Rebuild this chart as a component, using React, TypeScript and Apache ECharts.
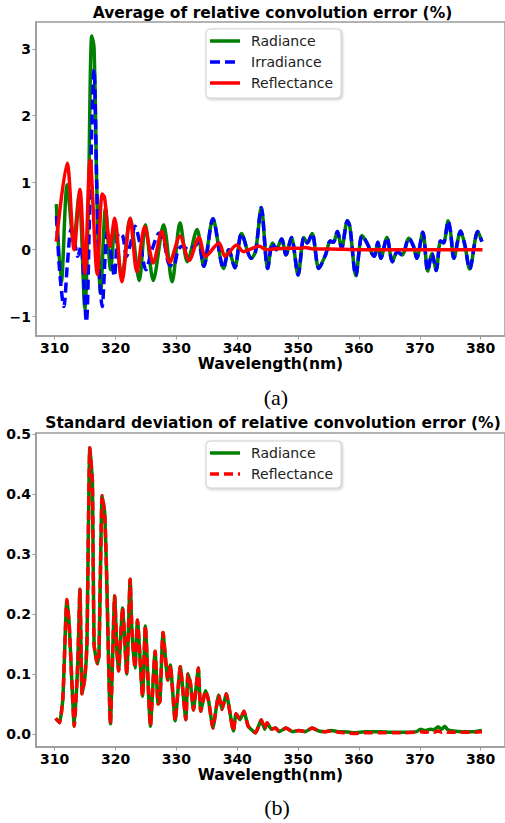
import React, { useEffect, useRef } from "react";
import * as echarts from "echarts";

// ---- axis ticks ----
const wlTicks = [310, 320, 330, 340, 350, 360, 370, 380];
const avgTicks = [-1, 0, 1, 2, 3];
const stdTicks = [0, 0.1, 0.2, 0.3, 0.4, 0.5];

// ---- legend entries ----
const avgLegend = ["Radiance", "Irradiance", "Reflectance"];
const stdLegend = ["Radiance", "Reflectance"];

// ---- (a) average relative convolution error (%) ----
const avgRadHeadWl = [310.27, 311.1, 312.05, 313.1, 314.0, 314.96, 315.5, 316.1, 316.47, 317.0, 317.55, 318.35, 319.2, 319.9, 321.0, 322.4, 323.9, 324.9, 326.2, 327.9, 329.3, 330.6, 331.8, 333.4];
const avgRadHeadVal = [0.68, -0.48, 0.97, 0.12, 0.82, -0.88, 0.5, 3.19, 3.02, 0.6, -0.65, 0.62, -0.3, 0.35, -0.42, 0.47, -0.46, 0.37, -0.46, 0.37, -0.48, 0.4, -0.18, 0.3];

const avgIrrHeadWl = [310.3, 310.8, 311.5, 312.1, 312.7, 313.3, 313.8, 314.3, 315.2, 315.7, 316.47, 316.9, 317.3, 317.8, 318.3, 318.7, 319.3, 319.8, 320.5, 321.2, 321.8, 322.5, 323.2, 324.0, 325.0, 326.0, 327.2, 328.0, 328.7, 329.5, 330.3, 331.0, 332.0, 333.0, 333.6];
const avgIrrHeadVal = [0.5, -0.3, -0.85, -0.2, 0.3, 0.1, -0.1, 0.05, -1.08, 0.4, 2.69, 1.0, -0.3, -0.85, -0.1, 0.3, -0.1, -0.4, 0.25, 0.2, -0.1, 0.1, 0.35, 0.1, -0.3, 0.0, 0.25, 0.1, -0.2, -0.25, 0.0, 0.05, 0.0, 0.05, 0.1];

// shared by Radiance and Irradiance (curves coincide beyond ~334 nm)
const avgTailWl = [334.5, 336.0, 337.75, 338.6, 339.6, 340.7, 342.3, 343.0, 343.95, 345.0, 345.8, 346.4, 347.3, 348.0, 348.9, 350.0, 350.95, 351.5, 352.3, 353.4, 354.5, 355.3, 355.8, 356.45, 357.15, 358.1, 358.5, 359.5, 360.5, 361.2, 362.5, 363.1, 363.6, 364.6, 365.5, 366.3, 367.1, 368.2, 369.0, 369.5, 370.5, 371.3, 372.0, 372.7, 373.4, 373.9, 374.67, 375.05, 375.6, 376.7, 377.4, 378.2, 379.5, 379.8, 380.2];
const avgTailVal = [-0.25, 0.46, -0.28, 0.0, -0.27, 0.24, -0.13, -0.03, 0.63, -0.28, 0.1, 0.0, 0.16, -0.08, 0.18, -0.38, 0.18, 0.1, 0.24, -0.28, -0.08, 0.13, 0.11, 0.27, 0.02, 0.43, 0.35, -0.39, 0.21, 0.12, -0.1, 0.11, -0.13, 0.18, -0.18, -0.03, -0.08, 0.17, 0.04, -0.13, 0.26, -0.32, -0.06, -0.31, 0.13, 0.1, 0.43, 0.27, -0.13, 0.28, 0.07, -0.29, 0.27, 0.22, 0.12];

const avgRefWl = [310.27, 312.05, 313.2, 314.15, 314.96, 315.82, 317.0, 317.8, 318.2, 319.1, 319.86, 321.05, 322.4, 323.5, 324.8, 326.2, 327.6, 328.9, 330.6, 332.1, 333.7, 334.8, 337.0, 338.0, 339.9, 341.0, 342.5, 343.6, 344.8, 346.0, 348.0, 350.0, 351.2, 352.5, 355.0, 360.0, 370.0, 380.3];
const avgRefVal = [0.12, 1.29, 0.0, 0.9, -0.35, 1.34, -0.37, 0.83, 0.78, 0.05, 0.47, -0.48, 0.47, -0.33, 0.34, -0.2, 0.27, -0.19, 0.2, -0.16, 0.18, -0.1, 0.1, -0.1, 0.07, -0.03, 0.02, 0.05, 0.0, 0.01, 0.02, 0.02, 0.03, 0.01, 0.01, 0.0, 0.0, 0.0];

// ---- (b) standard deviation of relative convolution error (%) ----
const stdWl = [310.16, 310.8, 311.35, 312.0, 312.4, 313.23, 313.8, 314.15, 314.5, 314.96, 315.3, 315.77, 316.2, 316.47, 317.0, 317.27, 317.8, 318.2, 318.5, 319.16, 319.86, 320.2, 320.5, 321.15, 321.85, 322.4, 322.7, 323.2, 323.6, 324.44, 324.9, 325.73, 326.5, 327.0, 327.3, 327.8, 328.6, 329.0, 329.8, 330.64, 331.55, 331.9, 332.3, 332.8, 333.6, 334.0, 334.8, 335.3, 336.0, 336.94, 337.5, 338.2, 339.37, 339.8, 340.45, 341.1, 341.8, 343.0, 343.95, 344.5, 344.9, 345.6, 346.3, 346.9, 348.0, 349.1, 350.1, 351.2, 352.3, 353.4, 354.5, 355.5, 356.6, 357.7, 359.3, 360.9, 362.2, 363.6, 365.5, 367.4, 369.5, 370.1, 370.9, 371.7, 372.3, 373.0, 373.6, 374.1, 374.6, 375.5, 377.1, 378.7, 380.2];
const stdRadiance = [0.026, 0.019, 0.06, 0.224, 0.18, 0.013, 0.12, 0.241, 0.067, 0.094, 0.15, 0.477, 0.42, 0.15, 0.117, 0.13, 0.397, 0.37, 0.28, 0.017, 0.23, 0.144, 0.105, 0.21, 0.1, 0.258, 0.17, 0.11, 0.19, 0.063, 0.18, 0.013, 0.138, 0.05, 0.055, 0.169, 0.09, 0.115, 0.022, 0.112, 0.024, 0.1, 0.085, 0.04, 0.11, 0.038, 0.072, 0.055, 0.01, 0.065, 0.041, 0.067, 0.005, 0.034, 0.024, 0.038, 0.013, 0.002, 0.024, 0.008, 0.019, 0.008, 0.01, 0.004, 0.01, 0.004, 0.006, 0.004, 0.01, 0.005, 0.004, 0.006, 0.004, 0.004, 0.002, 0.004, 0.004, 0.004, 0.003, 0.003, 0.004, 0.008, 0.006, 0.008, 0.007, 0.012, 0.008, 0.013, 0.007, 0.005, 0.004, 0.004, 0.006];
const stdReflectance = [0.026, 0.019, 0.06, 0.224, 0.18, 0.013, 0.12, 0.241, 0.067, 0.094, 0.15, 0.477, 0.42, 0.15, 0.117, 0.13, 0.397, 0.37, 0.28, 0.017, 0.23, 0.144, 0.105, 0.21, 0.1, 0.258, 0.17, 0.11, 0.19, 0.063, 0.18, 0.013, 0.138, 0.05, 0.055, 0.169, 0.09, 0.115, 0.022, 0.112, 0.024, 0.1, 0.085, 0.04, 0.11, 0.038, 0.072, 0.055, 0.01, 0.065, 0.041, 0.067, 0.005, 0.034, 0.024, 0.038, 0.013, 0.002, 0.024, 0.008, 0.019, 0.008, 0.01, 0.004, 0.01, 0.004, 0.006, 0.004, 0.01, 0.005, 0.004, 0.005, 0.003, 0.002, 0.001, 0.002, 0.002, 0.002, 0.002, 0.002, 0.003, 0.004, 0.003, 0.004, 0.003, 0.005, 0.003, 0.005, 0.003, 0.003, 0.003, 0.003, 0.004];

const zip = (xs: number[], ys: number[]) => xs.map((x, i) => [x, ys[i]]);

const GREEN = "#008000";
const BLUE = "#0000ff";
const RED = "#ff0000";
const SPINE = "#9a9a9a";
const BOLD = "DejaVu Sans";
const LW = 3.5;

type LegendItem = { label: string; color: string; dash: number[] | null };

function legendGraphic(x: number, y: number, w: number, h: number, items: LegendItem[]) {
  const children: any[] = [
    {
      type: "rect",
      shape: { x, y, width: w, height: h, r: 4 },
      style: {
        fill: "#fff",
        stroke: "#d0d0d0",
        lineWidth: 1,
        shadowBlur: 3,
        shadowColor: "rgba(0,0,0,0.25)",
        shadowOffsetX: 1,
        shadowOffsetY: 1,
      },
    },
  ];
  items.forEach((it, i) => {
    const cy = y + 12 + i * 21;
    children.push({
      type: "line",
      shape: { x1: x + 4, y1: cy, x2: x + 34, y2: cy },
      style: { stroke: it.color, lineWidth: LW, lineDash: it.dash || undefined },
    });
    children.push({
      type: "text",
      style: {
        x: x + 45, y: cy, text: it.label, fontFamily: "DejaVu Sans", fontSize: 14,
        fill: "#222", textAlign: "left", textVerticalAlign: "middle",
      },
    });
  });
  return { type: "group", children };
}

function xAxisFor(gridIndex: number) {
  return {
    type: "value",
    gridIndex,
    min: 306.93,
    max: 384.0,
    name: "Wavelength(nm)",
    nameLocation: "middle",
    nameGap: 19,
    nameTextStyle: { fontFamily: BOLD, fontWeight: "bold", fontSize: 15.5, color: "#000" },
    axisLine: { show: true, onZero: false, lineStyle: { color: SPINE, width: 1.5 } },
    axisTick: { show: true, customValues: wlTicks, length: 3.5, lineStyle: { color: SPINE, width: 1 } },
    axisLabel: {
      customValues: wlTicks,
      margin: 5,
      fontFamily: BOLD,
      fontWeight: "bold",
      fontSize: 14,
      color: "#000",
    },
    splitLine: { show: false },
  };
}

export default function App() {
  const ref = useRef<HTMLDivElement>(null);

  useEffect(() => {
    if (!ref.current) return;
    const chart = echarts.init(ref.current, null, { renderer: "svg" });

    chart.setOption({
      animation: false,
      backgroundColor: "#fff",
      grid: [
        { left: 36, top: 22, width: 477, height: 314, show: true, borderColor: SPINE, borderWidth: 1.5, backgroundColor: "transparent" },
        { left: 36, top: 433, width: 477, height: 314, show: true, borderColor: SPINE, borderWidth: 1.5, backgroundColor: "transparent" },
      ],
      xAxis: [xAxisFor(0), xAxisFor(1)],
      yAxis: [
        {
          type: "value",
          gridIndex: 0,
          min: -1.29,
          max: 3.4,
          axisLine: { show: true, lineStyle: { color: SPINE, width: 1.5 } },
          axisTick: { show: true, customValues: avgTicks, length: 3.5, lineStyle: { color: SPINE } },
          axisLabel: {
            customValues: avgTicks,
            margin: 5,
            fontFamily: BOLD,
            fontWeight: "bold",
            fontSize: 14,
            color: "#000",
            formatter: (v: number) => (v < 0 ? "\u2212" + Math.abs(v) : String(v)),
          },
          splitLine: { show: false },
        },
        {
          type: "value",
          gridIndex: 1,
          min: -0.0216,
          max: 0.5015,
          axisLine: { show: true, lineStyle: { color: SPINE, width: 1.5 } },
          axisTick: { show: true, customValues: stdTicks, length: 3.5, lineStyle: { color: SPINE } },
          axisLabel: {
            customValues: stdTicks,
            margin: 5,
            fontFamily: BOLD,
            fontWeight: "bold",
            fontSize: 14,
            color: "#000",
            formatter: (v: number) => v.toFixed(1),
          },
          splitLine: { show: false },
        },
      ],
      graphic: [
        {
          type: "text",
          style: {
            x: 272.5, y: 13, text: "Average of relative convolution error (%)",
            fontFamily: BOLD, fontWeight: "bold", fontSize: 15.5, fill: "#000",
            textAlign: "center", textVerticalAlign: "middle",
          },
        },
        {
          type: "text",
          style: {
            x: 273, y: 423, text: "Standard deviation of relative convolution error (%)",
            fontFamily: BOLD, fontWeight: "bold", fontSize: 15.5, fill: "#000",
            textAlign: "center", textVerticalAlign: "middle",
          },
        },
        {
          type: "text",
          style: {
            x: 276, y: 397, text: "(a)", fontFamily: "Liberation Serif", fontSize: 22, fill: "#000",
            textAlign: "center", textVerticalAlign: "middle",
          },
        },
        {
          type: "text",
          style: {
            x: 277, y: 807, text: "(b)", fontFamily: "Liberation Serif", fontSize: 22, fill: "#000",
            textAlign: "center", textVerticalAlign: "middle",
          },
        },
        legendGraphic(206, 29, 135, 69, [
          { label: avgLegend[0], color: GREEN, dash: null },
          { label: avgLegend[1], color: BLUE, dash: [10, 5] },
          { label: avgLegend[2], color: RED, dash: null },
        ]),
        legendGraphic(206, 441, 135, 47, [
          { label: stdLegend[0], color: GREEN, dash: null },
          { label: stdLegend[1], color: RED, dash: [9, 5] },
        ]),
      ],
      series: [
        {
          name: "Radiance", type: "line", xAxisIndex: 0, yAxisIndex: 0,
          data: zip([...avgRadHeadWl, ...avgTailWl], [...avgRadHeadVal, ...avgTailVal]),
          symbol: "none", showSymbol: false, smooth: 0.3,
          lineStyle: { color: GREEN, width: LW }, itemStyle: { color: GREEN },
        },
        {
          name: "Irradiance", type: "line", xAxisIndex: 0, yAxisIndex: 0,
          data: zip([...avgIrrHeadWl, ...avgTailWl], [...avgIrrHeadVal, ...avgTailVal]),
          symbol: "none", showSymbol: false, smooth: 0.3,
          lineStyle: { color: BLUE, width: LW, type: [10, 5] }, itemStyle: { color: BLUE },
        },
        {
          name: "Reflectance", type: "line", xAxisIndex: 0, yAxisIndex: 0,
          data: zip(avgRefWl, avgRefVal),
          symbol: "none", showSymbol: false, smooth: 0.3,
          lineStyle: { color: RED, width: LW }, itemStyle: { color: RED },
        },
        {
          name: "Radiance (std)", type: "line", xAxisIndex: 1, yAxisIndex: 1,
          data: zip(stdWl, stdRadiance),
          symbol: "none", showSymbol: false, smooth: 0.15,
          lineStyle: { color: GREEN, width: LW }, itemStyle: { color: GREEN },
        },
        {
          name: "Reflectance (std)", type: "line", xAxisIndex: 1, yAxisIndex: 1,
          data: zip(stdWl, stdReflectance),
          symbol: "none", showSymbol: false, smooth: 0.15,
          lineStyle: { color: RED, width: LW, type: [9, 5] }, itemStyle: { color: RED },
        },
      ],
    });

    return () => chart.dispose();
  }, []);

  return (
    <div
      ref={ref}
      style={{ position: "absolute", left: 0, top: 0, width: 505, height: 823, background: "#fff" }}
    />
  );
}
